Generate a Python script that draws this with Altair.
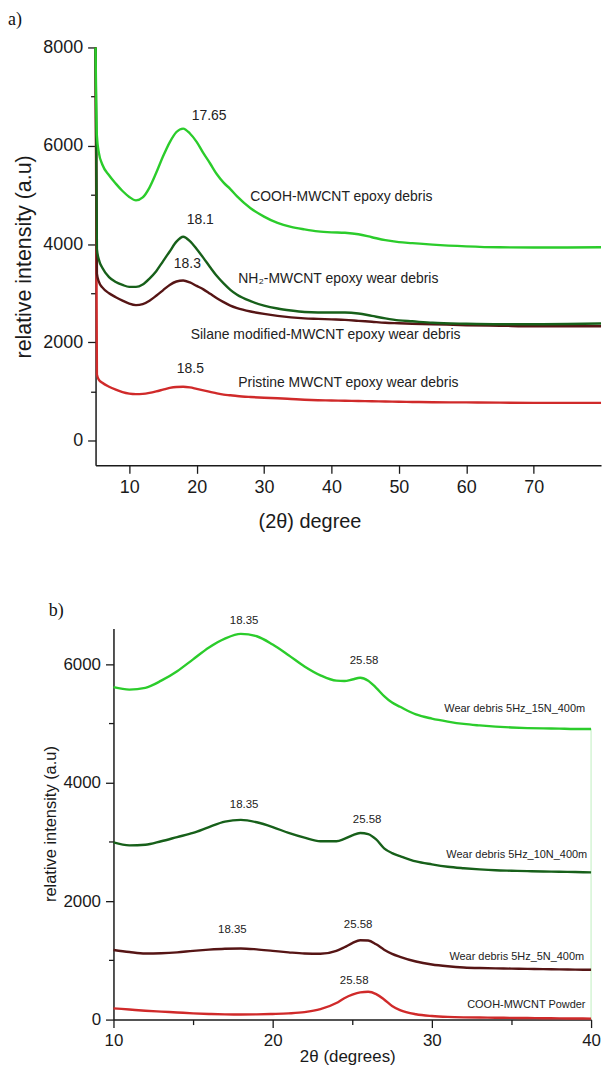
import altair as alt
import pandas as pd

# ---------------- Panel a data ----------------
a_x = [5.0, 5.2, 5.5, 6, 7, 8, 9, 10, 11, 12, 13, 14, 15, 16, 17, 18, 19, 20, 21, 22, 23, 24, 25, 26,
       28, 30, 32, 34, 36, 38, 40, 42, 44, 46, 48, 50, 52,
       55, 60, 65, 70, 75, 80]
a_cooh = [8000, 6200, 5850, 5620, 5400, 5230, 5080, 4960, 4890, 4950, 5150, 5450, 5780, 6070, 6280, 6350, 6250, 6080, 5850, 5640, 5420, 5250, 5120, 4970,
          4730, 4560, 4430, 4350, 4300, 4260, 4240, 4230, 4200, 4140, 4080, 4040, 4020,
          3990, 3955, 3935, 3930, 3930, 3935]
a_nh2 = [8000, 3900, 3680, 3520, 3330, 3230, 3170, 3130, 3130, 3180, 3300, 3450, 3650, 3850, 4050, 4150, 4060, 3900, 3720, 3530, 3350, 3200, 3070, 2970,
         2840, 2750, 2690, 2650, 2620, 2610, 2610, 2610, 2590, 2540, 2490, 2450, 2430,
         2400, 2380, 2370, 2370, 2375, 2385]
a_silane = [8000, 3400, 3230, 3120, 3000, 2920, 2850, 2790, 2760, 2780, 2850, 2950, 3060, 3170, 3240, 3260, 3220, 3150, 3080, 2990, 2900, 2820, 2750, 2700,
            2630, 2580, 2540, 2510, 2490, 2480, 2470, 2460, 2440, 2420, 2400, 2390, 2380,
            2370, 2350, 2340, 2330, 2330, 2330]
a_pristine = [8000, 1350, 1240, 1180, 1100, 1040, 990, 960, 950, 955, 975, 1005, 1040, 1075, 1095, 1100, 1085, 1055, 1025, 995, 965, 940, 925, 910,
              890, 875, 865, 850, 835, 825, 820, 815, 810, 805, 800, 795, 790,
              785, 780, 775, 772, 770, 770]
a_names = ["Pristine", "Silane", "NH2", "COOH"]
a_colors = ["#d02a2a", "#561515", "#17601a", "#2bcc2b"]

a_ann_text = ["17.65", "18.1", "18.3", "18.5",
              "COOH-MWCNT epoxy debris", "NH₂-MWCNT epoxy wear debris",
              "Silane modified-MWCNT epoxy wear debris", "Pristine MWCNT epoxy wear debris"]
a_ann_x = [19.26, 18.53, 16.62, 17.06, 27.94, 26.18, 19.12, 26.18]
a_ann_y = [6614, 4489, 3598, 1453, 4954, 3295, 2161, 1170]

a_xticks = [10, 15, 20, 25, 30, 35, 40, 45, 50, 55, 60, 65, 70, 75]
a_yticks = [0, 1000, 2000, 3000, 4000, 5000, 6000, 7000, 8000]

# ---------------- Panel b data ----------------
b_x = [10, 11, 12, 13, 14, 15, 16, 17, 18, 19, 20, 21, 22, 23,
       24, 24.5, 25, 25.5, 26, 26.5, 27, 27.5,
       28, 29, 30, 31, 32, 33, 34, 35, 36, 37, 38, 39, 40]
b_15n = [5610, 5570, 5600, 5720, 5880, 6080, 6280, 6430, 6510, 6470, 6330, 6150, 5960, 5810,
         5720, 5715, 5740, 5770, 5720, 5600, 5460, 5350,
         5280, 5150, 5080, 5030, 4990, 4965, 4945, 4930, 4920, 4915, 4910, 4905, 4905]
b_10n = [2990, 2940, 2950, 3010, 3080, 3150, 3250, 3340, 3370, 3330, 3250, 3150, 3070, 3010,
         3010, 3050, 3110, 3150, 3130, 3040, 2890, 2810,
         2760, 2670, 2620, 2580, 2555, 2535, 2520, 2512, 2505, 2500, 2495, 2490, 2485]
b_5n = [1175, 1140, 1115, 1120, 1135, 1160, 1180, 1195, 1200, 1185, 1160, 1135, 1115, 1110,
        1160, 1220, 1290, 1340, 1335, 1270, 1180, 1110,
        1060, 980, 930, 900, 880, 870, 865, 860, 855, 851, 848, 844, 840]
b_powder = [190, 170, 150, 135, 120, 105, 95, 88, 85, 88, 95, 105, 125, 175,
            280, 360, 420, 460, 470, 430, 340, 230,
            160, 90, 60, 45, 38, 35, 32, 29, 26, 23, 20, 18, 17]
b_names = ["Powder", "5N", "10N", "15N"]
b_colors = ["#d02a2a", "#561515", "#17601a", "#2bcc2b"]

b_num_text = ["18.35", "25.58", "18.35", "25.58", "18.35", "25.58", "25.58"]
b_num_x = [18.21, 25.74, 18.21, 25.93, 17.47, 25.37, 25.12]
b_num_y = [6720, 6048, 3629, 3360, 1512, 1596, 655]
b_lab_text = ["Wear debris 5Hz_15N_400m", "Wear debris 5Hz_10N_400m",
              "Wear debris 5Hz_5N_400m", "COOH-MWCNT Powder"]
b_lab_x = [30.78, 30.91, 31.10, 32.22]
b_lab_y = [5242, 2772, 1058, 252]

b_edge_x = [40]
b_edge_y = [0]
b_edge_y2 = [4905]

b_xticks = [10, 15, 20, 25, 30, 35, 40]
b_yticks = [0, 1000, 2000, 3000, 4000, 5000, 6000]

SANS = "Liberation Sans"
SERIF = "Liberation Serif"
INK = "#1a1a1a"

# ---------------- build tables ----------------
a_df = pd.DataFrame({
    "x": a_x * 4,
    "y": a_pristine + a_silane + a_nh2 + a_cooh,
    "series": sum([[n] * len(a_x) for n in a_names], []),
})
a_ann = pd.DataFrame({"t": a_ann_text, "x": a_ann_x, "y": a_ann_y})

b_df = pd.DataFrame({
    "x": b_x * 4,
    "y": b_powder + b_5n + b_10n + b_15n,
    "series": sum([[n] * len(b_x) for n in b_names], []),
})
b_num = pd.DataFrame({"t": b_num_text, "x": b_num_x, "y": b_num_y})
b_lab = pd.DataFrame({"t": b_lab_text, "x": b_lab_x, "y": b_lab_y})
b_edge = pd.DataFrame({"x": b_edge_x, "y": b_edge_y, "y2": b_edge_y2})

W = 508
HA = 420
HB = 393


def tick_size(step):
    return {"condition": {"test": f"datum.value % {step} != 0", "value": 5}, "value": 8}


def lab_expr(step):
    return f"datum.value % {step} == 0 ? datum.label : ''"


common = dict(grid=False, labelFont=SANS, labelColor=INK, domainColor=INK, tickColor=INK,
              domainWidth=1.5, tickWidth=1.3, titleFont=SANS, titleFontWeight="normal",
              titleColor=INK, labelFlush=False, labelPadding=5)

# ---------------- panel a ----------------
ax_x = alt.X("x:Q", scale=alt.Scale(domain=[5, 80], nice=False, zero=False),
             axis=alt.Axis(values=a_xticks, labelExpr=lab_expr(10), tickSize=tick_size(10),
                           labelFontSize=18, title="(2θ) degree", titleFontSize=20,
                           titleX=215, titleY=46, titleAlign="center", **common))
ax_y = alt.Y("y:Q", scale=alt.Scale(domain=[-500, 8000], nice=False, zero=False),
             axis=alt.Axis(values=a_yticks, labelExpr=lab_expr(2000), tickSize=tick_size(2000),
                           labelFontSize=18, format="d", title="relative intensity (a.u)",
                           titleFontSize=21.5, titleX=-71, titleY=HA / 2,
                           titleBaseline="middle", titleAlign="center", **common))

a_lines = alt.Chart(a_df).mark_line(strokeWidth=2.4, interpolate="monotone").encode(
    x=ax_x, y=ax_y,
    color=alt.Color("series:N", scale=alt.Scale(domain=a_names, range=a_colors), legend=None),
    order=alt.Order("x:Q"),
)
a_text = alt.Chart(a_ann).mark_text(align="left", baseline="middle", font=SANS, fontSize=14,
                                    color="#222222").encode(x="x:Q", y="y:Q", text="t:N")
a_tag = alt.Chart(pd.DataFrame({"t": ["a)"]})).mark_text(
    align="left", baseline="top", font=SERIF, fontSize=18, color="#111111").encode(
    x=alt.value(-88), y=alt.value(-37), text="t:N")

panel_a = alt.layer(a_lines, a_text, a_tag).properties(width=W, height=HA)

# ---------------- panel b ----------------
bx = alt.X("x:Q", scale=alt.Scale(domain=[10, 40], nice=False, zero=False, range=[18, 498]),
           axis=alt.Axis(values=b_xticks, labelExpr=lab_expr(10), tickSize=tick_size(10),
                         labelFontSize=17, title="2θ (degrees)", titleFontSize=17,
                         titleX=253, titleY=29, titleAlign="center", **common))
by = alt.Y("y:Q", scale=alt.Scale(domain=[0, 6600], nice=False, zero=False),
           axis=alt.Axis(values=b_yticks, labelExpr=lab_expr(2000), tickSize=tick_size(2000),
                         labelFontSize=17, format="d", offset=-18,
                         title="relative intensity (a.u)", titleFontSize=16.5,
                         titleX=-63, titleY=196, titleBaseline="middle", titleAlign="center",
                         **common))

b_lines = alt.Chart(b_df).mark_line(strokeWidth=2.4, interpolate="monotone").encode(
    x=bx, y=by,
    color=alt.Color("series:N", scale=alt.Scale(domain=b_names, range=b_colors), legend=None),
    order=alt.Order("x:Q"),
)
b_rule = alt.Chart(b_edge).mark_rule(color="#2bcc2b", opacity=0.3, strokeWidth=1).encode(
    x="x:Q", y="y:Q", y2="y2:Q")
b_numt = alt.Chart(b_num).mark_text(align="center", baseline="middle", font=SANS, fontSize=11.5,
                                    color="#222222").encode(x="x:Q", y="y:Q", text="t:N")
b_labt = alt.Chart(b_lab).mark_text(align="left", baseline="middle", font=SANS, fontSize=11,
                                    color="#222222").encode(x="x:Q", y="y:Q", text="t:N")
b_tag = alt.Chart(pd.DataFrame({"t": ["b)"]})).mark_text(
    align="left", baseline="middle", font=SERIF, fontSize=18, color="#111111").encode(
    x=alt.value(-47), y=alt.value(-18), text="t:N")

panel_b = alt.layer(b_rule, b_lines, b_numt, b_labt, b_tag).properties(width=W, height=HB)

chart = alt.vconcat(panel_a, panel_b, spacing=164, bounds="flush").properties(
    padding=0
).configure_view(stroke=None)

chart.save("out.html", embed_options={"renderer": "svg", "actions": False})
